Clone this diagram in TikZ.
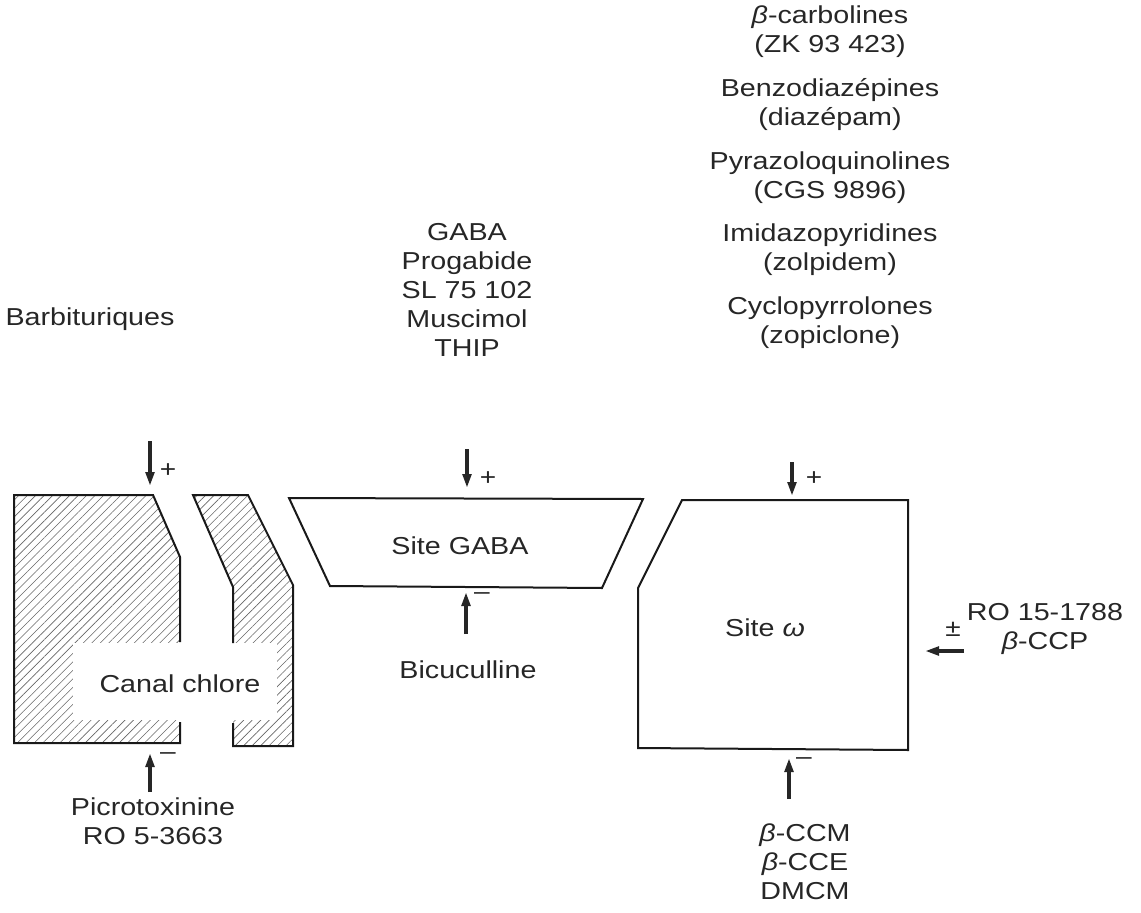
\documentclass[tikz,border=0pt]{standalone}
\usepackage{fontspec}
\setmainfont{Liberation Sans}[FakeStretch=1.17]
\usetikzlibrary{arrows.meta,patterns.meta}
\begin{document}
\begin{tikzpicture}[x=1pt,y=-1pt,
  lbl/.style={font=\fontsize{24.5}{29}\selectfont, inner sep=0pt, align=center, text=black!85},
  outline/.style={line width=2pt, line join=miter, draw=black!90},
  act/.style={line width=3.6pt, draw=black!85, -{Triangle[length=14pt,width=8.5pt]}},
  sgn/.style={font=\fontsize{24}{24}\selectfont, inner sep=0pt, text=black!85},
  hatch/.style={pattern={Lines[angle=45,distance=6pt,line width=0.6pt]}, pattern color=black!60}]
\useasboundingbox (0,0) rectangle (1141,913);

% ---- hatched channel walls ----
\fill[hatch] (14,495) -- (153,495) -- (180,557) -- (180,743) -- (14,743) -- cycle;
\fill[hatch] (193,495) -- (248,495) -- (293,585) -- (293,746) -- (233,746) -- (233,587) -- cycle;
\fill[white] (73,643) rectangle (277,720);
\draw[outline] (180,642) -- (180,557) -- (153,495) -- (14,495) -- (14,743) -- (180,743) -- (180,722);
\draw[outline] (233,643) -- (233,587) -- (193,495) -- (248,495) -- (293,585) -- (293,746) -- (233,746) -- (233,723);
\node[lbl] (canal) at (180,684) {Canal chlore};

% ---- Site GABA ----
\draw[outline] (289,498) -- (643,499) -- (602,588) -- (330,586) -- cycle;
\node[lbl] (gaba) at (460,546) {Site GABA};

% ---- Site omega ----
\draw[outline] (682,500) -- (908,500) -- (908,750) -- (638,748) -- (638,588) -- cycle;
\node[lbl] (omega) at (765,628) {Site \textit{ω}};

% ---- labels ----
\node[lbl] (barb) at (90,319) {Barbituriques};
\node[lbl] (gabalist) at (467,290) {GABA\\Progabide\\SL 75 102\\Muscimol\\THIP};
\node[lbl] (carb) at (830,32) {\textit{β}-carbolines\\(ZK 93 423)};
\node[lbl] (benzo) at (830,105) {Benzodiazépines\\(diazépam)};
\node[lbl] (pyra) at (830,178) {Pyrazoloquinolines\\(CGS 9896)};
\node[lbl] (imid) at (830,250) {Imidazopyridines\\(zolpidem)};
\node[lbl] (cyclo) at (830,323) {Cyclopyrrolones\\(zopiclone)};
\node[lbl] (bicu) at (468,670) {Bicuculline};
\node[lbl] (picro) at (153,821) {Picrotoxinine\\RO 5-3663};
\node[lbl] (ro15) at (1045,629) {RO 15-1788\\\textit{β}-CCP};
\node[lbl] (ccm) at (805,862) {\textit{β}-CCM\\\textit{β}-CCE\\DMCM};

% ---- arrows ----
\coordinate (a1s) at (150,441); \coordinate (a1e) at (150,486);
\draw[act] (a1s) -- (a1e);
\node[sgn] (p1) at (168,471) {+};
\coordinate (a2s) at (150,792); \coordinate (a2e) at (150,753);
\draw[act] (a2s) -- (a2e);
\node[sgn] (m2) at (168,756) {\textendash};

\coordinate (a3s) at (467,449); \coordinate (a3e) at (467,488);
\draw[act] (a3s) -- (a3e);
\node[sgn] (p3) at (488,479) {+};
\coordinate (a4s) at (466,634); \coordinate (a4e) at (466,592);
\draw[act] (a4s) -- (a4e);
\node[sgn] (m4) at (482,596) {\textendash};

\coordinate (a5s) at (792,462); \coordinate (a5e) at (792,496);
\draw[act] (a5s) -- (a5e);
\node[sgn] (p5) at (814,479) {+};
\coordinate (a6s) at (789,799); \coordinate (a6e) at (789,758);
\draw[act] (a6s) -- (a6e);
\node[sgn] (m6) at (804,761) {\textendash};

\coordinate (a7s) at (964,651); \coordinate (a7e) at (925,651);
\draw[act] (a7s) -- (a7e);
\node[sgn] (pm7) at (953,629) {±};
\end{tikzpicture}
\end{document}
